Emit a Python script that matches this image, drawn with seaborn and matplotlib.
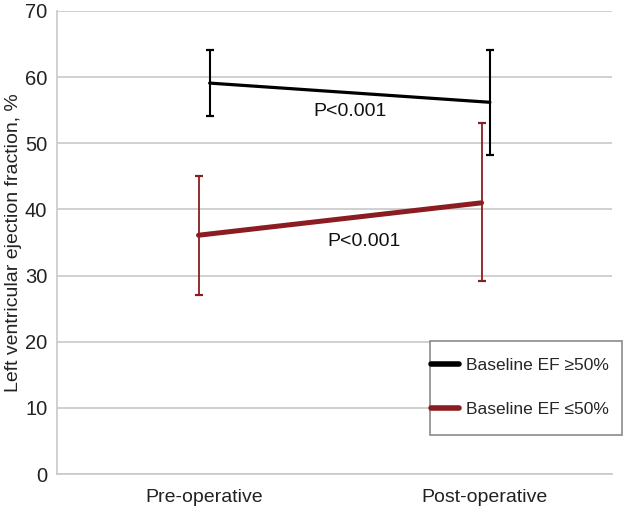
import matplotlib
matplotlib.use("Agg")
import matplotlib.pyplot as plt
import seaborn as sns
import pandas as pd
from matplotlib.lines import Line2D
from matplotlib.patches import Rectangle

sns.set_theme(style="white")
plt.rcParams['font.family'] = ['Liberation Sans', 'DejaVu Sans']

categories = ["Pre-operative", "Post-operative"]
series_names = ["Baseline EF \u226550%", "Baseline EF \u226450%"]
high_mean = [59.1, 56.2]
high_low = [54.2, 48.3]
high_high = [64.1, 64.1]
low_mean = [36.1, 41.0]
low_low = [27.1, 29.2]
low_high = [45.0, 53.0]
p_labels = ["P<0.001", "P<0.001"]
y_ticks = [0, 10, 20, 30, 40, 50, 60, 70]

black = "#000000"
red = "#8b1c21"

fig = plt.figure(figsize=(6.24, 5.12), dpi=100)
ax = fig.add_axes([57/624, 38/512, 555/624, 463/512])

base = [0.5, 1.5]
x_high = [b + o for b, o in zip(base, [0.05, 0.06])]
x_low = [b + o for b, o in zip(base, [0.01, 0.03])]

df = pd.DataFrame({
    "x": x_high + x_low,
    "y": high_mean + low_mean,
    "group": [series_names[0]] * 2 + [series_names[1]] * 2,
})

# error bars
ax.errorbar(x_high, high_mean,
            yerr=[[m - l for m, l in zip(high_mean, high_low)],
                  [h - m for m, h in zip(high_mean, high_high)]],
            fmt='none', ecolor=black, elinewidth=1.5, capsize=3, capthick=1.6, zorder=3)
ax.errorbar(x_low, low_mean,
            yerr=[[m - l for m, l in zip(low_mean, low_low)],
                  [h - m for m, h in zip(low_mean, low_high)]],
            fmt='none', ecolor=red, elinewidth=1.3, capsize=3, capthick=1.6, zorder=3)

sns.lineplot(data=df[df.group == series_names[0]], x="x", y="y", color=black,
             linewidth=2.3, ax=ax, legend=False, zorder=4)
sns.lineplot(data=df[df.group == series_names[1]], x="x", y="y", color=red,
             linewidth=3.6, ax=ax, legend=False, zorder=4)

ax.text(1.056, 54.8, p_labels[0], ha='center', va='center', fontsize=14, color='#111111')
ax.text(1.106, 35.1, p_labels[1], ha='center', va='center', fontsize=14, color='#111111')

ax.set_xlim(0, 2)
ax.set_ylim(0, 70)
ax.set_yticks(y_ticks)
ax.set_yticklabels([str(t) for t in y_ticks], fontsize=14.5, color='#222222')
ax.yaxis.grid(True, color='#c8c8c8', linewidth=1.2)
ax.set_axisbelow(True)
ax.set_xticks([0.53, 1.54])
ax.set_xticklabels(categories, fontsize=14, color='#222222')
ax.set_xticks([0, 1, 2], minor=True)
ax.tick_params(axis='x', which='major', length=0, pad=11)
ax.tick_params(axis='x', which='minor', length=4, color='#c8c8c8', width=1, direction='out')
ax.tick_params(axis='y', length=4, color='#c8c8c8', width=1.2, pad=3)
ax.set_xlabel("")
ax.set_ylabel("Left ventricular ejection fraction, %", fontsize=14, color='#222222', labelpad=2)

for s in ['top', 'right']:
    ax.spines[s].set_visible(False)
for s in ['left', 'bottom']:
    ax.spines[s].set_color('#c8c8c8')
    ax.spines[s].set_linewidth(1.2)

# legend box
fig.patches.append(Rectangle((430/624, 1 - 435/512), 192/624, 94/512,
                             transform=fig.transFigure, facecolor='white',
                             edgecolor='#8a8a8a', linewidth=1.2, zorder=5))
handles = [Line2D([0], [0], color=black, linewidth=4, solid_capstyle='round'),
           Line2D([0], [0], color=red, linewidth=4, solid_capstyle='round')]
leg = fig.legend(handles, series_names, loc='center left',
                 bbox_to_anchor=(431/624, 1 - 387.5/512),
                 frameon=False, fontsize=12.5,
                 handlelength=1.6, handletextpad=0.4, labelspacing=1.7,
                 borderaxespad=0, borderpad=0)
leg.set_zorder(6)

fig.savefig("out.png", dpi=100)
